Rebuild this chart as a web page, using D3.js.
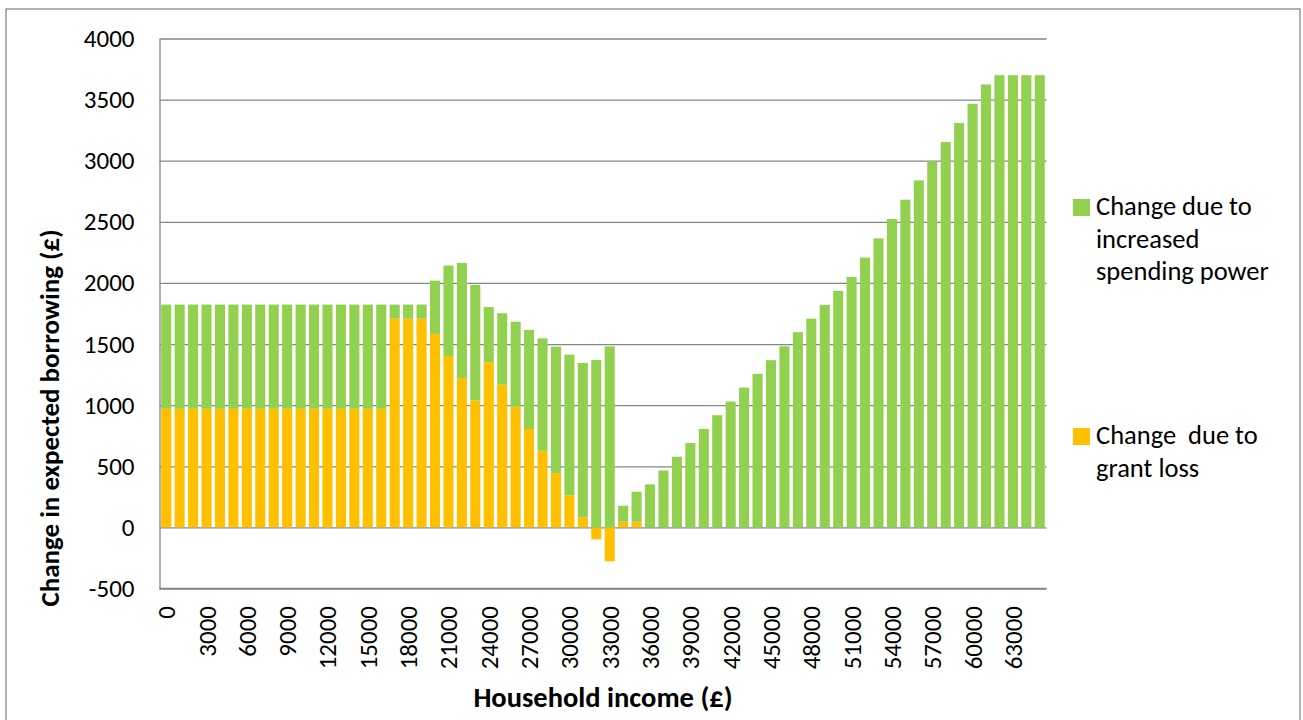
<!DOCTYPE html>
<html>
<head>
<meta charset="utf-8">
<script src="https://cdn.jsdelivr.net/npm/d3@7"></script>
<style>
  body { margin: 0; background: #fff; }
  text { font-family: Carlito, Calibri, Lato, sans-serif; fill: #000; }
</style>
</head>
<body>
<div id="chart"></div>
<script>
// dochod gospodarstwa (kategorie osi x)
const incomes = [
  0, 1000, 2000, 3000, 4000, 5000, 6000, 7000, 8000, 9000,
  10000, 11000, 12000, 13000, 14000, 15000, 16000, 17000, 18000, 19000,
  20000, 21000, 22000, 23000, 24000, 25000, 26000, 27000, 28000, 29000,
  30000, 31000, 32000, 33000, 34000, 35000, 36000, 37000, 38000, 39000,
  40000, 41000, 42000, 43000, 44000, 45000, 46000, 47000, 48000, 49000,
  50000, 51000, 52000, 53000, 54000, 55000, 56000, 57000, 58000, 59000,
  60000, 61000, 62000, 63000, 64000, 65000
];

// seria dolna - utrata grantu (pomaranczowa)
const grantLoss = [
  970, 970, 970, 970, 970, 970, 970, 970, 970, 970,
  970, 970, 970, 970, 970, 970, 970, 1708, 1708, 1708,
  1583, 1402, 1222, 1039, 1351, 1168, 988, 805, 627, 445,
  262, 82, -98, -278, 46, 46, 0, 0, 0, 0,
  0, 0, 0, 0, 0, 0, 0, 0, 0, 0,
  0, 0, 0, 0, 0, 0, 0, 0, 0, 0,
  0, 0, 0, 0, 0, 0
];

// seria gorna - wieksza sila nabywcza (zielona)
const spendingPower = [
  853, 853, 853, 853, 853, 853, 853, 853, 853, 853,
  853, 853, 853, 853, 853, 853, 853, 115, 115, 115,
  436, 740, 942, 945, 452, 584, 695, 810, 920, 1034,
  1151, 1263, 1370, 1481, 131, 246, 352, 466, 578, 690,
  805, 918, 1030, 1144, 1256, 1368, 1482, 1597, 1708, 1820,
  1935, 2049, 2207, 2365, 2523, 2681, 2839, 2995, 3153, 3308,
  3466, 3624, 3700, 3700, 3700, 3700
];

const yTicks = [-500, 0, 500, 1000, 1500, 2000, 2500, 3000, 3500, 4000];
const xTickLabels = [0, 3000, 6000, 9000, 12000, 15000, 18000, 21000, 24000, 27000,
  30000, 33000, 36000, 39000, 42000, 45000, 48000, 51000, 54000, 57000, 60000, 63000];

const seriesKeys = ["grant", "spending"];
const legendLines = {
  spending: ["Change due to", "increased", "spending power"],
  grant: ["Change  due to", "grant loss"]
};
const colors = { spending: "#92D050", grant: "#FFC000" };

const width = 1303;
const height = 720;
const plot = { left: 159.5, right: 1046.5, top: 38.5, bottom: 588.5 };

const svg = d3.select("#chart")
  .append("svg")
  .attr("width", width)
  .attr("height", height);

// ramka calego wykresu
svg.append("rect")
  .attr("x", 6).attr("y", 9)
  .attr("width", 1294).attr("height", 730)
  .attr("fill", "none")
  .attr("stroke", "#898989")
  .attr("stroke-width", 1.3);

const table = incomes.map((inc, i) => ({ income: inc, grant: grantLoss[i], spending: spendingPower[i] }));

const x = d3.scaleBand()
  .domain(incomes)
  .range([plot.left, plot.right])
  .paddingInner(0.25)
  .paddingOuter(0.125);

const y = d3.scaleLinear()
  .domain([-500, 4000])
  .range([plot.bottom, plot.top]);

// linie siatki
svg.append("g")
  .attr("transform", `translate(${plot.left},0)`)
  .call(d3.axisLeft(y).tickValues(yTicks).tickSize(-(plot.right - plot.left)).tickFormat(""))
  .call(g => g.select(".domain").remove())
  .call(g => g.selectAll("line").attr("stroke", "#868686").attr("stroke-width", 1.3));

// slupki (stos z wartosciami ujemnymi)
const stacked = d3.stack()
  .keys(seriesKeys)
  .offset(d3.stackOffsetDiverging)(table);

svg.append("g")
  .selectAll("g")
  .data(stacked)
  .join("g")
  .attr("fill", d => colors[d.key])
  .selectAll("rect")
  .data(d => d)
  .join("rect")
  .attr("x", d => x(d.data.income))
  .attr("width", x.bandwidth())
  .attr("y", d => y(Math.max(d[0], d[1])))
  .attr("height", d => Math.abs(y(d[0]) - y(d[1])));

// os y
svg.append("g")
  .attr("transform", `translate(${plot.left},0)`)
  .call(d3.axisLeft(y).tickValues(yTicks).tickSize(0).tickPadding(25).tickFormat(d => String(d)))
  .call(g => g.select(".domain").attr("stroke", "#868686").attr("stroke-width", 1.3))
  .call(g => g.selectAll("text").attr("font-size", 25).attr("font-family", "Lato, sans-serif"));

// os x na dole obszaru wykresu
svg.append("line")
  .attr("x1", plot.left).attr("x2", plot.right)
  .attr("y1", plot.bottom).attr("y2", plot.bottom)
  .attr("stroke", "#868686").attr("stroke-width", 1.3);

svg.append("g")
  .selectAll("text")
  .data(xTickLabels)
  .join("text")
  .attr("transform", d => `translate(${x(d) + x.bandwidth() / 2},606) rotate(-90)`)
  .attr("text-anchor", "end")
  .attr("dy", "0.36em")
  .attr("font-size", 25)
  .text(d => d);

// tytuly osi
svg.append("text")
  .attr("x", (plot.left + plot.right) / 2)
  .attr("y", 707)
  .attr("text-anchor", "middle")
  .attr("font-weight", "bold")
  .attr("font-size", 28.5)
  .text("Household income (£)");

svg.append("text")
  .attr("transform", "translate(59,418) rotate(-90)")
  .attr("text-anchor", "middle")
  .attr("font-weight", "bold")
  .attr("font-size", 27)
  .text("Change in expected borrowing (£)");

// legenda
const legend = [
  { key: "spending", top: 199 },
  { key: "grant", top: 428 }
];
const lg = svg.append("g").selectAll("g").data(legend).join("g");
lg.append("rect")
  .attr("x", 1073).attr("y", d => d.top)
  .attr("width", 17).attr("height", 17)
  .attr("fill", d => colors[d.key]);
lg.append("text")
  .attr("x", 1096)
  .attr("y", d => d.top + 16)
  .attr("font-size", 26.5)
  .style("white-space", "pre")
  .selectAll("tspan")
  .data(d => legendLines[d.key])
  .join("tspan")
  .attr("x", 1096)
  .attr("dy", (d, i) => i === 0 ? 0 : 32.5)
  .text(d => d);
</script>
</body>
</html>
